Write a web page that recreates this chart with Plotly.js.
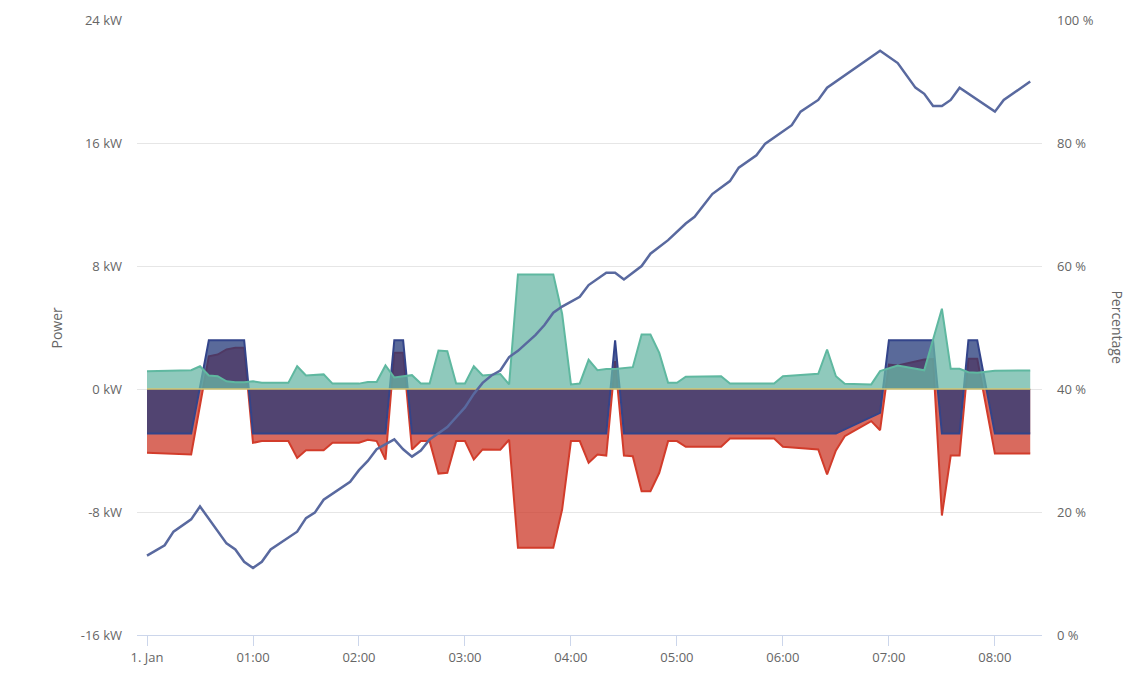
<!DOCTYPE html>
<html>
<head>
<meta charset="utf-8">
<script src="https://cdn.plot.ly/plotly-3.0.1.min.js"></script>
<style>
  html, body { margin: 0; padding: 0; background: #fff; }
  #chart { width: 1142px; height: 684px; }
</style>
</head>
<body>
<div id="chart"></div>
<script>
// grid (teal), battery (blue), house (red), SOC line — times as HH:MM on 1 Jan
const gridTimes = ["00:00","00:25","00:30","00:35","00:40","00:45","00:50","00:55","01:00","01:05","01:20","01:25","01:30","01:40","01:45","02:00","02:05","02:10","02:15","02:20","02:30","02:35","02:40","02:45","02:50","02:55","03:00","03:05","03:10","03:20","03:25","03:30","03:50","03:55","04:00","04:05","04:10","04:15","04:20","04:25","04:35","04:40","04:45","04:50","04:55","05:00","05:05","05:25","05:30","05:55","06:00","06:20","06:25","06:30","06:35","06:50","06:55","07:05","07:20","07:30","07:35","07:40","07:45","07:50","08:00","08:20"];
const gridPower = [1.16,1.22,1.48,0.88,0.83,0.5,0.44,0.44,0.5,0.4,0.4,1.48,0.88,0.95,0.35,0.35,0.45,0.45,1.53,0.75,0.9,0.36,0.36,2.5,2.46,0.36,0.36,1.48,0.88,0.97,0.3,7.45,7.45,4.9,0.3,0.36,1.9,1.22,1.3,1.3,1.42,3.54,3.54,2.35,0.4,0.4,0.8,0.83,0.36,0.36,0.83,0.99,2.57,0.83,0.34,0.3,1.16,1.53,1.22,5.22,1.31,1.31,1.09,1.05,1.19,1.2];

const batteryTimes = ["00:00","00:25","00:35","00:55","01:00","02:15","02:20","02:25","02:30","04:20","04:25","04:30","06:30","06:55","07:00","07:25","07:30","07:40","07:45","07:50","08:00","08:20"];
const batteryPower = [-2.9,-2.9,3.17,3.17,-2.9,-2.9,3.17,3.17,-2.9,-2.9,3.17,-2.9,-2.9,-1.55,3.17,3.17,-2.9,-2.9,3.17,3.17,-2.9,-2.9];

const houseTimes = ["00:00","00:25","00:35","00:40","00:45","00:50","00:55","01:00","01:05","01:20","01:25","01:30","01:40","01:45","02:00","02:05","02:10","02:15","02:20","02:25","02:30","02:35","02:40","02:45","02:50","02:55","03:00","03:05","03:10","03:20","03:25","03:30","03:50","03:55","04:00","04:05","04:10","04:15","04:20","04:25","04:30","04:35","04:40","04:45","04:50","04:55","05:00","05:05","05:25","05:30","05:55","06:00","06:20","06:25","06:30","06:35","06:40","06:50","06:55","07:00","07:05","07:20","07:25","07:30","07:35","07:40","07:45","07:50","08:00","08:20"];
const housePower = [-4.15,-4.26,2.13,2.24,2.57,2.68,2.68,-3.5,-3.39,-3.39,-4.48,-3.98,-3.98,-3.5,-3.5,-3.3,-3.39,-4.59,2.35,2.35,-3.93,-3.39,-3.39,-5.5,-5.45,-3.39,-3.39,-4.59,-3.93,-3.95,-3.3,-10.33,-10.33,-7.84,-3.39,-3.39,-4.8,-4.26,-4.33,1.81,-4.33,-4.37,-6.65,-6.65,-5.45,-3.39,-3.39,-3.76,-3.76,-3.22,-3.22,-3.76,-3.93,-5.56,-4.0,-3.07,-2.74,-2.09,-2.68,1.59,1.53,1.92,1.95,-8.23,-4.33,-4.33,1.96,1.96,-4.2,-4.2];

const zeroTimes = ["00:00","08:20"];
const zeroPower = [0,0];

const socTimes = ["00:00","00:10","00:15","00:25","00:30","00:45","00:50","00:55","01:00","01:05","01:10","01:25","01:30","01:35","01:40","01:55","02:00","02:05","02:10","02:20","02:25","02:30","02:35","02:40","02:45","02:50","02:55","03:00","03:05","03:10","03:15","03:20","03:25","03:30","03:40","03:45","03:50","03:55","04:05","04:10","04:20","04:25","04:30","04:35","04:40","04:45","04:55","05:05","05:10","05:20","05:30","05:35","05:45","05:50","06:05","06:10","06:20","06:25","06:55","07:05","07:15","07:20","07:25","07:30","07:35","07:40","08:00","08:05","08:20"];
const socPct = [12.9,14.6,16.8,18.8,20.9,14.9,13.9,11.9,10.9,11.9,13.9,16.8,19.0,19.9,22.0,24.9,26.8,28.3,30.2,31.8,30.2,29.0,30.0,31.8,32.8,33.8,35.4,37.0,39.2,41.0,42.2,43.0,45.2,46.2,48.8,50.4,52.4,53.4,55.0,56.9,58.9,58.9,57.8,58.9,60.0,62.0,64.2,66.9,68.0,71.7,73.8,76.0,78.0,79.9,82.9,85.1,87.0,89.0,95.0,93.0,89.0,88.0,86.0,86.0,87.0,89.0,85.1,87.0,90.0];

const hourTicks = ["00:00","01:00","02:00","03:00","04:00","05:00","06:00","07:00","08:00"];
const hourLabels = ["1. Jan","01:00","02:00","03:00","04:00","05:00","06:00","07:00","08:00"];
const powerTicks = [-16, -8, 0, 8, 16, 24];
const powerLabels = ["-16 kW", "-8 kW", "0 kW", "8 kW", "16 kW", "24 kW"];
const pctTicks = [0, 20, 40, 60, 80, 100];
const pctLabels = ["0 %", "20 %", "40 %", "60 %", "80 %", "100 %"];

const day = t => "2024-01-01 " + t;

function area(times, vals, line, fill) {
  return {
    x: times.map(day), y: vals, type: "scatter", mode: "lines",
    fill: "tozeroy", fillcolor: fill,
    line: { color: line, width: 2 }, hoverinfo: "skip"
  };
}

const data = [
  area(houseTimes, housePower, "#d23c2b", "rgba(204,56,40,0.75)"),
  area(batteryTimes, batteryPower, "#33448a", "rgba(35,56,120,0.75)"),
  area(gridTimes, gridPower, "#5fb8a0", "rgba(106,183,166,0.75)"),
  {
    x: zeroTimes.map(day), y: zeroPower, type: "scatter", mode: "lines",
    line: { color: "#d2c473", width: 1.5 }, hoverinfo: "skip"
  },
  {
    x: socTimes.map(day), y: socPct, type: "scatter", mode: "lines", yaxis: "y2",
    line: { color: "#59699f", width: 2.5 }, hoverinfo: "skip"
  }
];

const tickFont = { family: "Open Sans, sans-serif", size: 13, color: "#666666" };
const titleFont = { family: "Open Sans, sans-serif", size: 14, color: "#666666" };

const layout = {
  width: 1142, height: 684,
  margin: { l: 137, r: 100, t: 20, b: 49 },
  paper_bgcolor: "#ffffff", plot_bgcolor: "#ffffff",
  showlegend: false,
  xaxis: {
    type: "date",
    range: ["2023-12-31 23:54:20", "2024-01-01 08:26:40"],
    tickvals: hourTicks.map(day), ticktext: hourLabels,
    showgrid: false, zeroline: false,
    showline: true, linecolor: "#ccd6eb", linewidth: 1,
    ticks: "outside", ticklen: 10, tickcolor: "#ccd6eb",
    tickfont: tickFont
  },
  yaxis: {
    range: [-16, 24], tickvals: powerTicks, ticktext: powerLabels,
    showgrid: true, gridcolor: "#e6e6e6", zeroline: false,
    showline: false, ticklabelstandoff: 14, tickfont: tickFont
  },
  yaxis2: {
    overlaying: "y", side: "right",
    range: [0, 100], tickvals: pctTicks, ticktext: pctLabels,
    showgrid: false, zeroline: false, showline: false,
    ticklabelstandoff: 14, tickfont: tickFont
  },
  annotations: [
    { text: "Power", xref: "paper", yref: "paper", x: -0.0884, y: 0.5,
      xanchor: "center", yanchor: "middle",
      textangle: -90, showarrow: false, font: titleFont },
    { text: "Percentage", xref: "paper", yref: "paper", x: 1.083, y: 0.5,
      xanchor: "center", yanchor: "middle",
      textangle: 90, showarrow: false, font: titleFont }
  ]
};

Plotly.newPlot("chart", data, layout, { displayModeBar: false, staticPlot: true });
</script>
</body>
</html>
